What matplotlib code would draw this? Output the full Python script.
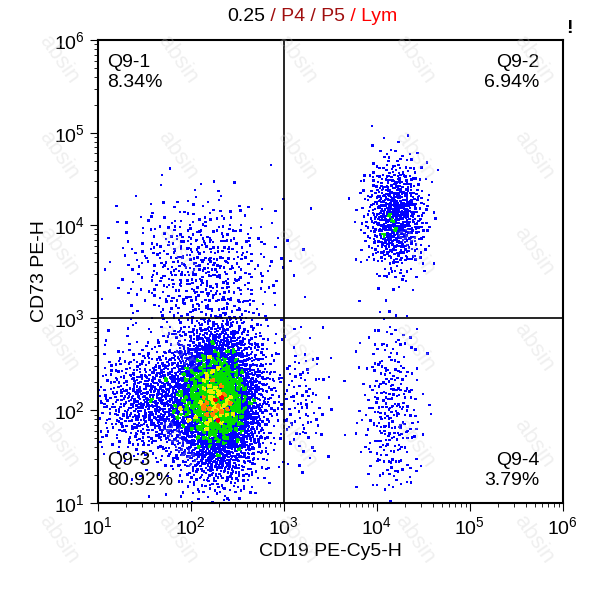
import numpy as np
import matplotlib
matplotlib.use('Agg')
import matplotlib.pyplot as plt
from matplotlib.colors import ListedColormap

plt.rcParams['font.family'] = ['Liberation Sans', 'DejaVu Sans']

# cell populations, in log10 units: centre x, centre y, spread x, spread y, count
pop_names = ['main', 'left_tail', 'q1_cloud', 'q2_cluster', 'q4_column', 'gap_cells']
pop_cx = [2.30, 1.70, 2.10, 4.20, 4.15, 3.20]
pop_cy = [2.10, 2.10, 3.55, 4.10, 2.00, 2.10]
pop_sx = [0.25, 0.38, 0.42, 0.16, 0.16, 0.15]
pop_sy = [0.42, 0.30, 0.38, 0.30, 0.50, 0.35]
pop_n = [3400, 1000, 520, 700, 280, 100]

quad_labels = ['Q9-1\n8.34%', 'Q9-2\n6.94%', 'Q9-3\n80.92%', 'Q9-4\n3.79%']
gate_x = 3.0
gate_y = 3.0


def halton(n, base):
    seq = np.zeros(n)
    for i in range(n):
        f, r, k = 1.0, 0.0, i + 1
        while k > 0:
            f /= base
            r += f * (k % base)
            k //= base
        seq[i] = r
    return seq


def cluster_points(cx, cy, sx, sy, n, offset):
    u1 = halton(n + offset, 2)[offset:]
    u2 = halton(n + offset, 3)[offset:]
    rad = np.sqrt(-2 * np.log(np.clip(u1, 1e-6, 1)))
    return cx + sx * rad * np.cos(2 * np.pi * u2), cy + sy * rad * np.sin(2 * np.pi * u2)


xs, ys = [], []
for i in range(len(pop_names)):
    x, y = cluster_points(pop_cx[i], pop_cy[i], pop_sx[i], pop_sy[i], pop_n[i], 17 + 311 * i)
    xs.append(x)
    ys.append(y)
lx = np.concatenate(xs)
ly = np.concatenate(ys)
keep = (lx > 1) & (lx < 6) & (ly > 1) & (ly < 6)
lx, ly = lx[keep], ly[keep]

# density colouring like the cytometer software, fine bins give the speckled look
nb = 160
H, xe, ye = np.histogram2d(lx, ly, bins=nb, range=[[1, 6], [1, 6]])
ix = np.clip(np.digitize(lx, xe) - 1, 0, nb - 1)
iy = np.clip(np.digitize(ly, ye) - 1, 0, nb - 1)
dens = H[ix, iy]
level = np.clip(dens - 2, 0, 6) / 6
cmap = ListedColormap(['#0000ff', '#0000ff', '#00e000', '#00e000', '#f0f000', '#ff8000', '#ff0000'])
order = np.argsort(level)

fig = plt.figure(figsize=(5.93, 6.0), dpi=100)
ax = fig.add_axes([0.165, 0.162, 0.784, 0.771])
ax.scatter(10 ** lx[order], 10 ** ly[order], c=level[order], cmap=cmap,
           s=3, marker='s', linewidths=0, vmin=0, vmax=1)
ax.set_xscale('log')
ax.set_yscale('log')
ax.set_xlim(10, 1e6)
ax.set_ylim(10, 1e6)
ax.axvline(10 ** gate_x, color='black', lw=1.2)
ax.axhline(10 ** gate_y, color='black', lw=1.2)
for s in ax.spines.values():
    s.set_linewidth(1.5)
ax.tick_params(which='both', direction='out', labelsize=14)
ax.tick_params(which='major', length=6)
ax.tick_params(which='minor', length=3)
ax.set_xlabel('CD19 PE-Cy5-H', fontsize=14)
ax.set_ylabel('CD73 PE-H', fontsize=14)

kw = dict(transform=ax.transAxes, fontsize=14)
ax.text(0.02, 0.97, quad_labels[0], va='top', ha='left', **kw)
ax.text(0.95, 0.97, quad_labels[1], va='top', ha='right', **kw)
ax.text(0.02, 0.03, quad_labels[2], va='bottom', ha='left', **kw)
ax.text(0.95, 0.03, quad_labels[3], va='bottom', ha='right', **kw)

# watermark
for wx in np.arange(0.1, 0.95, 0.2):
    for wy in np.arange(0.1, 0.92, 0.16):
        fig.text(wx, wy, 'absin', fontsize=16, color='#cccccc', alpha=0.3,
                 rotation=-55, ha='center', va='center', zorder=5)

# coloured title pieces
parts = [('0.25', 'black'), (' / P4', '#a01010'), (' / P5', '#a01010'), (' / Lym', '#ff0000')]
renderer = fig.canvas.get_renderer()
widths = []
for t, c in parts:
    tt = fig.text(0, 0, t, fontsize=14)
    widths.append(tt.get_window_extent(renderer).width / fig.bbox.width)
    tt.remove()
x0 = 0.527 - sum(widths) / 2
for (t, c), w in zip(parts, widths):
    fig.text(x0, 0.972, t, color=c, fontsize=14, va='center', ha='left')
    x0 += w
fig.text(0.955, 0.952, '!', fontsize=14, fontweight='bold', va='center')

fig.savefig('out.png', dpi=100)
